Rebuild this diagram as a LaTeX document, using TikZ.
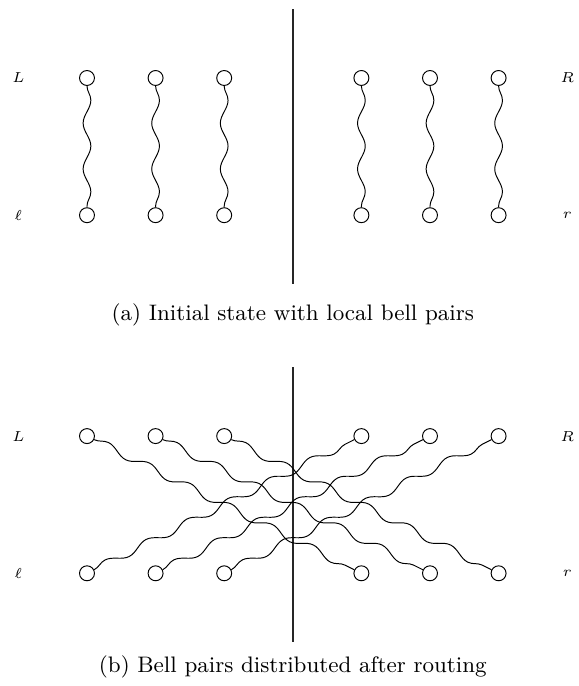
\documentclass[tikz,border=0pt]{standalone}
\usepackage{amsmath,amssymb}
\usepackage{tikz}
\usetikzlibrary{decorations.pathmorphing}

\begin{document}
\begin{tikzpicture}[
  qubit/.style={draw, circle, minimum size=6.2pt, inner sep=0pt},
  side/.style={font=\fontsize{6}{7}\selectfont, inner sep=0pt},
  bell/.style={decorate, decoration={snake, amplitude=1.6pt, segment length=19pt}},
  cut/.style={thick, black!85},
  subcap/.style={font=\fontsize{9.3}{11}\selectfont, inner sep=0pt}
]
\useasboundingbox (-1.268,1.137) rectangle (7.172,-8.863);

% --- (a) Initial state -------------------------------------------------------
\node[side] (labLa) at (-1,0) {$L$};
\node[side] (labla) at (-1,-2) {$\ell$};
\node[side] (labRa) at (7,0) {$R$};
\node[side] (labra) at (7,-2) {$r$};

\node[qubit] (La1) at (0,0) {};
\node[qubit] (La2) at (1,0) {};
\node[qubit] (La3) at (2,0) {};
\node[qubit] (Ra1) at (4,0) {};
\node[qubit] (Ra2) at (5,0) {};
\node[qubit] (Ra3) at (6,0) {};
\node[qubit] (la1) at (0,-2) {};
\node[qubit] (la2) at (1,-2) {};
\node[qubit] (la3) at (2,-2) {};
\node[qubit] (ra1) at (4,-2) {};
\node[qubit] (ra2) at (5,-2) {};
\node[qubit] (ra3) at (6,-2) {};

\coordinate (cutAtop) at (3,1);
\coordinate (cutAbot) at (3,-3);
\draw[cut] (cutAtop) -- (cutAbot);

% local pairs
\draw[bell] (La1) -- (la1);
\draw[bell] (La2) -- (la2);
\draw[bell] (La3) -- (la3);
\draw[bell] (Ra1) -- (ra1);
\draw[bell] (Ra2) -- (ra2);
\draw[bell] (Ra3) -- (ra3);

\node[subcap] (capA) at (3,-3.45) {(a) Initial state with local bell pairs};

% --- (b) After routing -------------------------------------------------------
\node[side] (labLb) at (-1,-5.22) {$L$};
\node[side] (lablb) at (-1,-7.22) {$\ell$};
\node[side] (labRb) at (7,-5.22) {$R$};
\node[side] (labrb) at (7,-7.22) {$r$};

\node[qubit] (Lb1) at (0,-5.22) {};
\node[qubit] (Lb2) at (1,-5.22) {};
\node[qubit] (Lb3) at (2,-5.22) {};
\node[qubit] (Rb1) at (4,-5.22) {};
\node[qubit] (Rb2) at (5,-5.22) {};
\node[qubit] (Rb3) at (6,-5.22) {};
\node[qubit] (lb1) at (0,-7.22) {};
\node[qubit] (lb2) at (1,-7.22) {};
\node[qubit] (lb3) at (2,-7.22) {};
\node[qubit] (rb1) at (4,-7.22) {};
\node[qubit] (rb2) at (5,-7.22) {};
\node[qubit] (rb3) at (6,-7.22) {};

\coordinate (cutBtop) at (3,-4.22);
\coordinate (cutBbot) at (3,-8.22);
\draw[cut] (cutBtop) -- (cutBbot);

% pairs across the cut
\draw[bell] (Lb1) -- (rb1);
\draw[bell] (Lb2) -- (rb2);
\draw[bell] (Lb3) -- (rb3);
\draw[bell] (lb1) -- (Rb1);
\draw[bell] (lb2) -- (Rb2);
\draw[bell] (lb3) -- (Rb3);

\node[subcap] (capB) at (3,-8.58) {(b) Bell pairs distributed after routing};

\end{tikzpicture}
\end{document}
